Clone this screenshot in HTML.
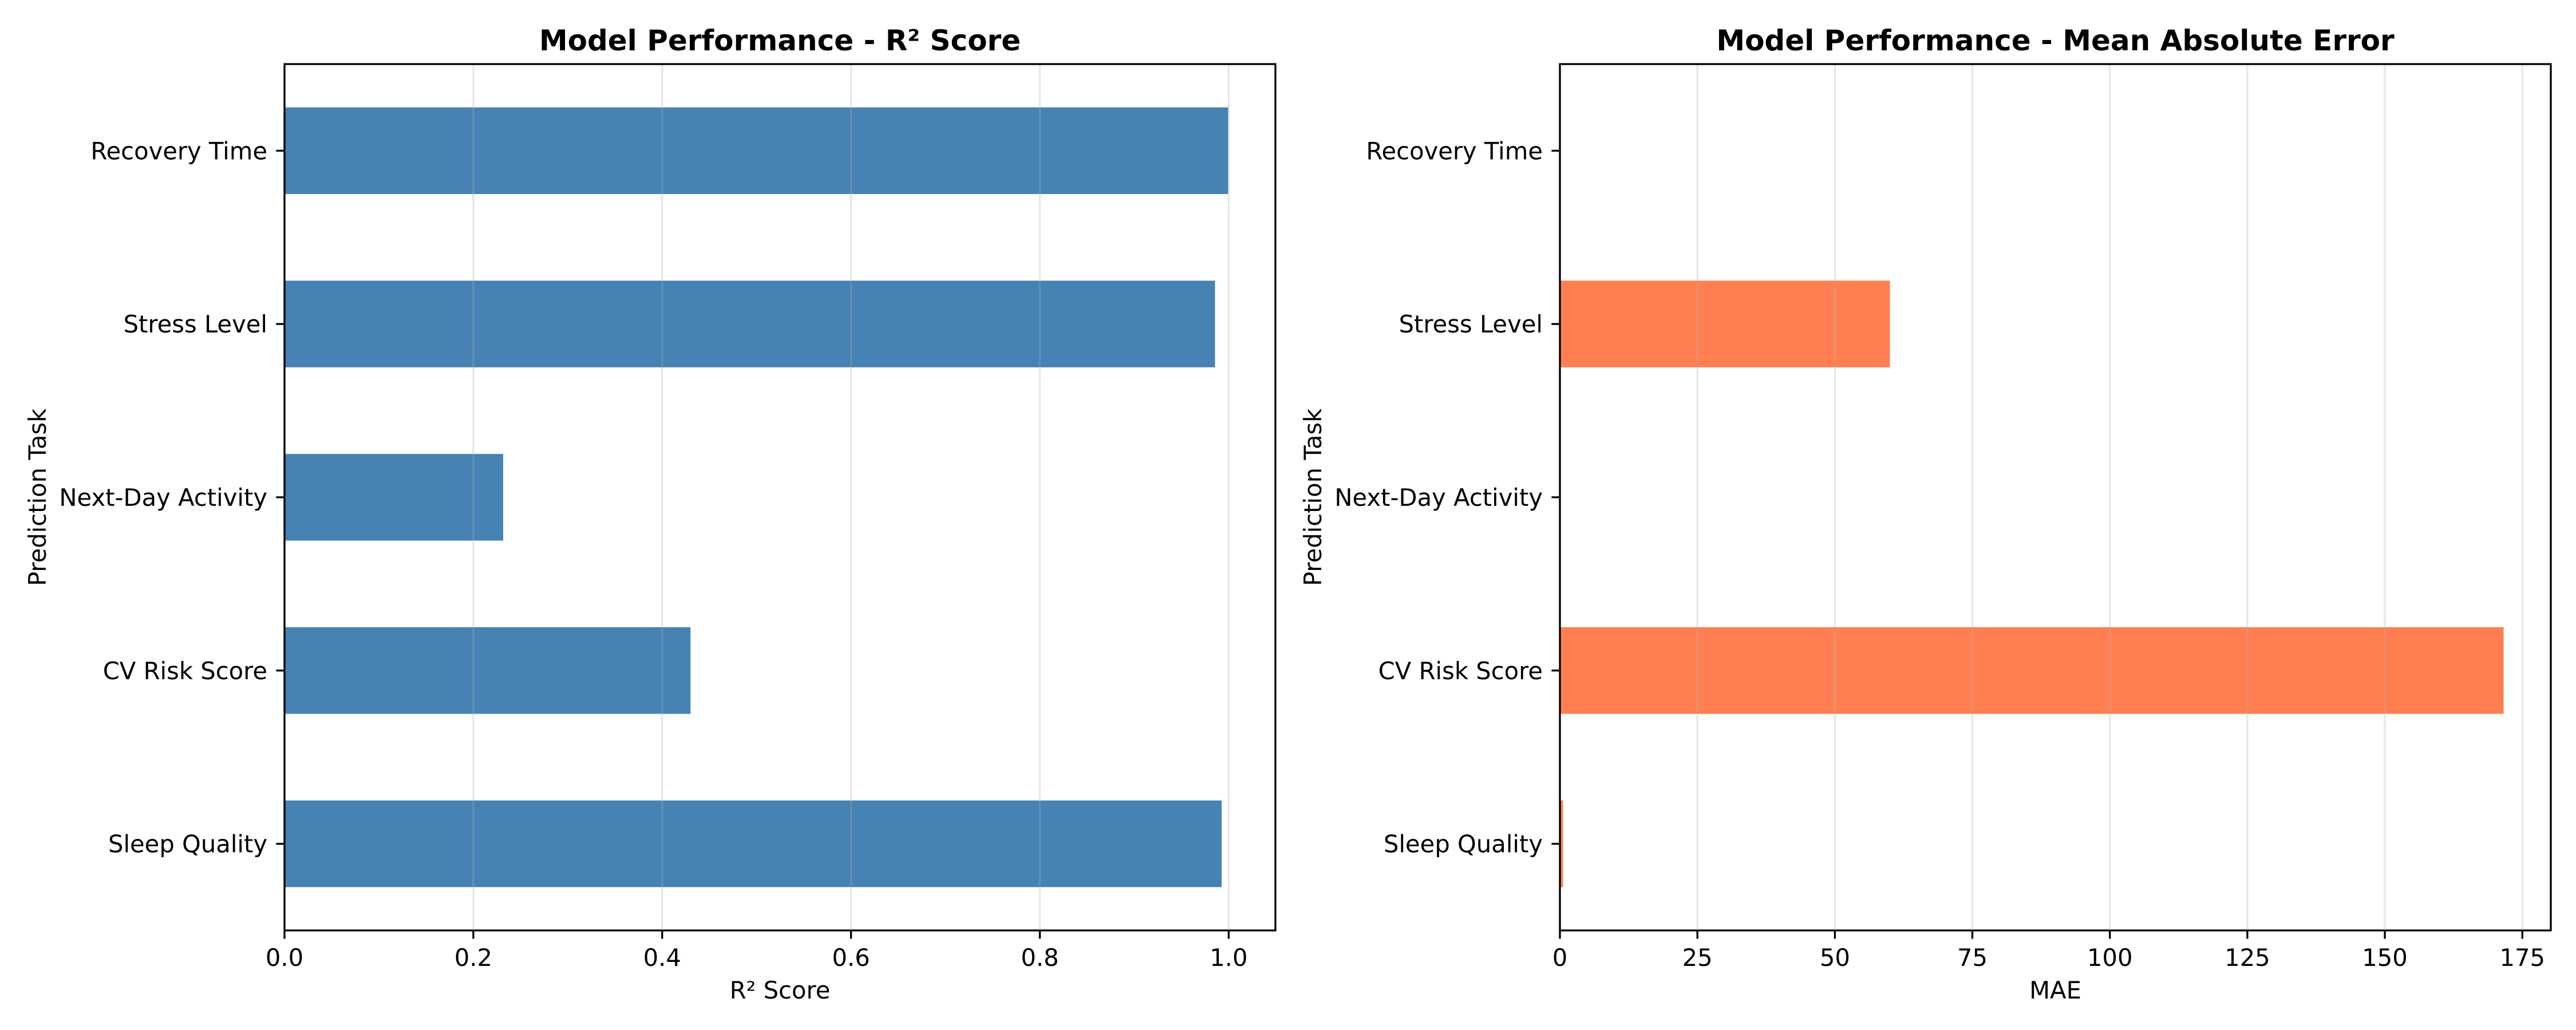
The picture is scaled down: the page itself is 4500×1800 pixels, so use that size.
<!DOCTYPE html>
<html><head><meta charset="utf-8"><style>
html,body{margin:0;padding:0;background:#fff}
svg{display:block}
text{font-family:"DejaVu Sans","Liberation Sans",sans-serif;fill:#000}
</style></head><body>
<svg id="fig" width="4500" height="1800" viewBox="0 0 4500 1800" xmlns="http://www.w3.org/2000/svg"></svg>
<script>
const categories = ["Sleep Quality","CV Risk Score","Next-Day Activity","Stress Level","Recovery Time"];
const r2Values = [0.9925, 0.430, 0.2316, 0.9855, 0.9995];
const maeValues = [0.55, 171.6, 0.05, 60.0, 0.1];
const r2Ticks = [0, 0.2, 0.4, 0.6, 0.8, 1.0];
const r2TickLabels = ["0.0","0.2","0.4","0.6","0.8","1.0"];
const maeTicks = [0, 25, 50, 75, 100, 125, 150, 175];
const maeTickLabels = ["0","25","50","75","100","125","150","175"];

const NS = "http://www.w3.org/2000/svg";
const svg = document.getElementById('fig');
function mk(tag, attrs, parent) {
  const e = document.createElementNS(NS, tag);
  for (const k in attrs) e.setAttribute(k, attrs[k]);
  (parent || svg).appendChild(e);
  return e;
}

function panel(cfg) {
  const g = mk('g', {});
  
  
  const L = cfg.left, R = cfg.left + 1731, T = 112, B = 1626;
  const xmax = Math.max(...cfg.values) * 1.05;
  const xs = v => L + (v / xmax) * (R - L);
  const n = categories.length;
  const ys = i => B - (i + 0.5) / n * (B - T);
  const unit = (B - T) / n;
  cfg.values.forEach((v, i) => {
    const r = mk('rect', {x: L, y: ys(i) - unit * 0.25, width: Math.max(0, xs(v) - L), height: unit * 0.5, fill: cfg.color}, g);
    
    
  });
  cfg.ticks.forEach((t, i) => {
    const x = xs(t);
    const gl = mk('line', {x1: x, x2: x, y1: T, y2: B, stroke: '#b0b0b0', 'stroke-opacity': 0.3, 'stroke-width': 3.3}, g);
    
    
    mk('line', {x1: x, x2: x, y1: B, y2: B + 14.6, stroke: '#000', 'stroke-width': 3.3}, g);
    const tl = mk('text', {x: x, y: 1688, 'font-size': 41.7, 'text-anchor': 'middle'}, g);
    tl.textContent = cfg.tickLabels[i];
    
    
  });
  categories.forEach((c, i) => {
    const y = ys(i);
    mk('line', {x1: L - 14.6, x2: L, y1: y, y2: y, stroke: '#000', 'stroke-width': 3.3}, g);
    const tl = mk('text', {x: L - 30, y: y + 15, 'font-size': 41.7, 'text-anchor': 'end'}, g);
    tl.textContent = c;
    
    
  });
  const fr = mk('rect', {x: L, y: T, width: R - L, height: B - T, fill: 'none', stroke: '#000', 'stroke-width': 3.3}, g);
  
  
  const ti = mk('text', {x: (L + R) / 2, y: 88, 'font-size': 50, 'font-weight': 'bold', 'text-anchor': 'middle'}, g);
  ti.textContent = cfg.title;
  
  
  const xl = mk('text', {x: (L + R) / 2, y: 1745, 'font-size': 41.7, 'text-anchor': 'middle'}, g);
  xl.textContent = cfg.xlabel;
  
  
  const yx = L - cfg.ylabOff, yy = (T + B) / 2;
  const yl = mk('text', {x: yx, y: yy, 'font-size': 41.7, 'text-anchor': 'middle', transform: 'rotate(-90 ' + yx + ' ' + yy + ')'}, g);
  yl.textContent = 'Prediction Task';
  
  
}

panel({name: 'r2-panel', left: 497, values: r2Values, ticks: r2Ticks, tickLabels: r2TickLabels, color: '#4682b4', title: 'Model Performance - R² Score', xlabel: 'R² Score', ylabOff: 417});
panel({name: 'mae-panel', left: 2725, values: maeValues, ticks: maeTicks, tickLabels: maeTickLabels, color: '#ff7f50', title: 'Model Performance - Mean Absolute Error', xlabel: 'MAE', ylabOff: 417});
</script>
</body></html>
